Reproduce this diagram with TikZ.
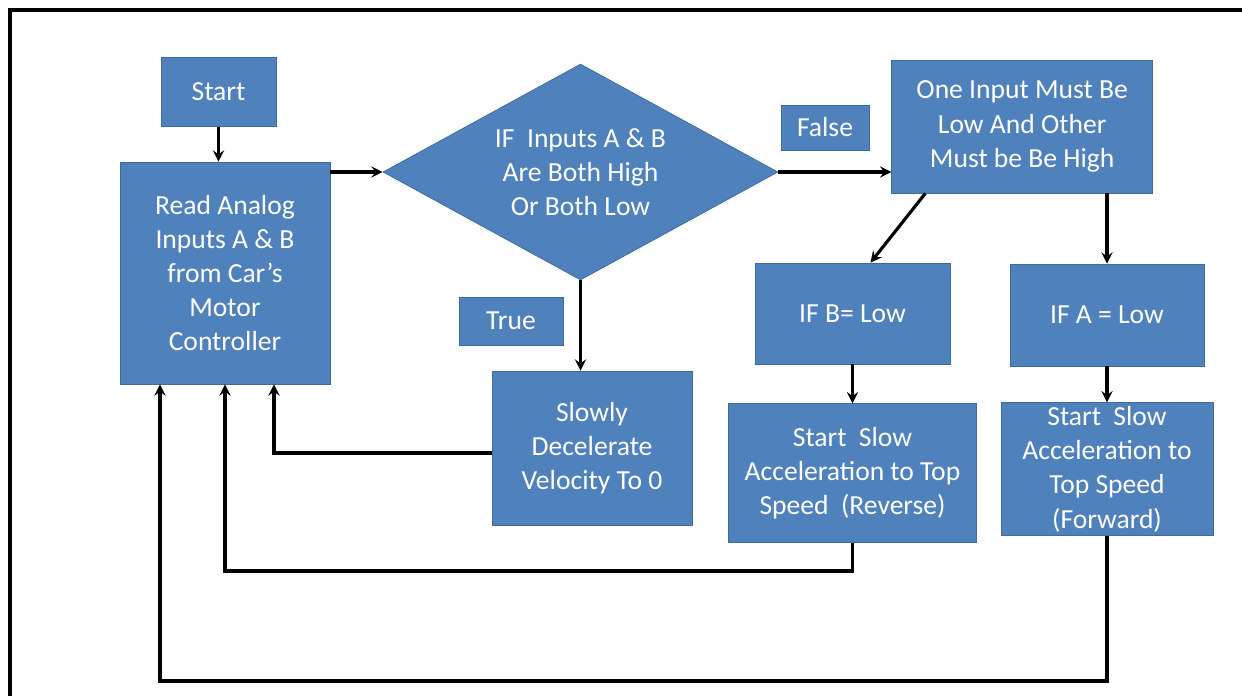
\documentclass[tikz,border=0pt]{standalone}
\usepackage{fontspec}
\setmainfont{Carlito}
\usepackage{tikz}
\usetikzlibrary{shapes, arrows, positioning}

\definecolor{blockblue}{HTML}{4F81BD}
\definecolor{blockedge}{HTML}{3F6A9C}

\begin{document}
\begin{tikzpicture}[
        block/.style={rectangle, draw=blockedge, fill=blockblue, text=white, align=center, inner sep=2pt, font=\fontsize{15.7}{19.4}\selectfont},
        decision/.style={diamond, draw=blockedge, fill=blockblue, text=white, align=center, inner sep=0pt, aspect=1.83, font=\fontsize{15.7}{19.4}\selectfont},
        arrow/.style={->, line width=1.8pt, >=stealth}
        ]
        \useasboundingbox (0,0) rectangle (24.84,-13.9);
        \draw[line width=2.2pt] (0.2,-13.95) -- (0.2,-0.2) -- (24.9,-0.2);

        \node[block, minimum width=4.2cm, minimum height=4.44cm] (read) at (4.5,-5.46) {Read Analog\\Inputs A \& B\\from Car’s\\Motor\\Controller};
        \node[block, minimum width=2.3cm, minimum height=1.38cm, above=0.7cm of read, xshift=-0.13cm] (start) {Start};
        \node[decision, minimum width=7.9cm, minimum height=4.32cm] (check) at (11.61,-3.44) {IF \ Inputs A \& B\\Are Both High\\Or Both Low};
        \node[block, minimum width=5.22cm, minimum height=2.66cm, right=2.26cm of check, yshift=0.91cm] (oneinput) {One Input Must Be\\Low And Other\\Must be Be High};
        \node[block, minimum width=1.76cm, minimum height=0.9cm] (false) at (16.5,-2.55) {False};
        \node[block, minimum width=2.08cm, minimum height=0.96cm] (true) at (10.22,-6.42) {True};
        \node[block, minimum width=4.0cm, minimum height=3.08cm] (slowly) at (11.84,-8.96) {Slowly\\Decelerate\\Velocity To 0};
        \node[block, minimum width=3.9cm, minimum height=2.02cm] (ifb) at (17.05,-6.27) {IF B= Low};
        \node[block, minimum width=3.88cm, minimum height=2.04cm] (ifa) at (22.14,-6.3) {IF A = Low};
        \node[block, minimum width=4.96cm, minimum height=2.78cm, below=0.78cm of ifb] (reverse) {Start \ Slow\\Acceleration to Top\\Speed \ (Reverse)};
        \node[block, minimum width=4.24cm, minimum height=2.66cm, below=0.72cm of ifa] (forward) {Start \ Slow\\Acceleration to\\Top Speed\\(Forward)};

        \draw[arrow] (start.south) -- (start.south |- read.north);
        \draw[arrow] (read.east |- check.west) -- (check.west);
        \draw[arrow] (check.east) -- (check.east -| oneinput.west);
        \draw[arrow] (check.south) -- (check.south |- slowly.north);
        \draw[arrow] ([xshift=0.68cm]oneinput.south west) -- ([xshift=0.36cm]ifb.north);
        \draw[arrow] (oneinput.south -| ifa.north) -- (ifa.north);
        \draw[arrow] (ifb.south) -- (ifb.south |- reverse.north);
        \draw[arrow] (ifa.south) -- (ifa.south |- forward.north);

        % back to the start of the loop
        \draw[arrow] ([yshift=-0.1cm]slowly.west) -| ([xshift=0.98cm]read.south);
        \draw[arrow] (reverse.south) -- ++(0,-0.56) -| (read.south);
        \draw[arrow] (forward.south) -- ++(0,-2.9) -| ([xshift=-1.3cm]read.south);

    \end{tikzpicture}
\end{document}
